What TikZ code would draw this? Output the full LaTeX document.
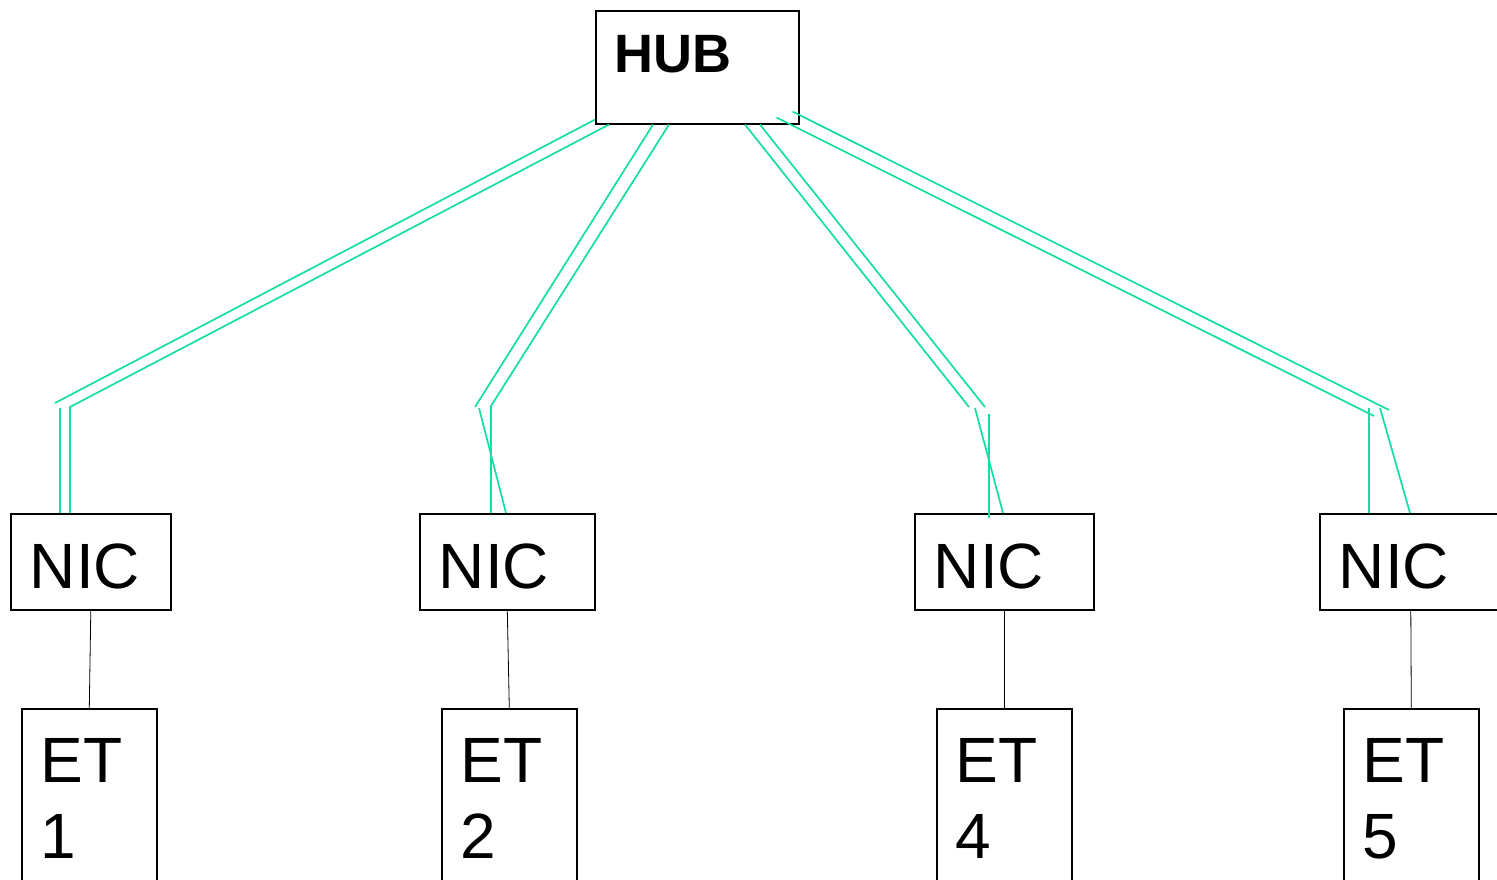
\documentclass[tikz,border=0pt]{standalone}
\usepackage{fontspec}
\setmainfont{Liberation Sans}
\usetikzlibrary{calc}
\definecolor{wire}{RGB}{20,222,164}
\tikzset{
	box/.style={draw, line width=1.6pt, anchor=north west, inner xsep=19pt, inner ysep=0pt, align=left},
	hubbox/.style={box, text width=165pt, text height=62pt, text depth=51pt, font=\fontsize{54}{60}\selectfont\bfseries},
	nicbox/.style={box, text height=75pt, text depth=21pt, font=\fontsize{64}{76}\selectfont},
	etbox/.style={box, text width=97pt, text height=74pt, text depth=126pt, font=\fontsize{64}{76}\selectfont},
	cable/.style={wire, line width=1.7pt},
	link/.style={line width=0.8pt}
}

\begin{document}
\begin{tikzpicture}[x=1pt,y=-1pt]
			%%%%% START %%%%%
			\clip (0,0) rectangle (1497,880);
			
			\node[hubbox] (hub) at (595,10) {HUB};
			
			\node[nicbox, text width=122pt] (nic1) at (10,513) {NIC};
			\node[nicbox, text width=137pt] (nic2) at (419,513) {NIC};
			\node[nicbox, text width=141pt] (nic4) at (914,513) {NIC};
			\node[nicbox, text width=144pt] (nic5) at (1319,513) {NIC};
			
			\node[etbox] (et1) at (21,708) {ET\\1};
			\node[etbox] (et2) at (441,708) {ET\\2};
			\node[etbox] (et4) at (936,708) {ET\\4};
			\node[etbox] (et5) at (1343,708) {ET\\5};
			
			\foreach \i in {1,2,4,5}
				\draw[link] (nic\i.south) -- (et\i.north);
			
			\coordinate (k1a) at (55,403);
			\coordinate (k1b) at (70,407);
			\coordinate (k1c) at (60,408);
			\draw[cable] ([yshift=5pt]hub.south west) -- (k1a);
			\draw[cable] ([xshift=14pt]hub.south west) -- (k1b) -- (k1b |- nic1.north);
			\draw[cable] (k1c) -- (k1c |- nic1.north);
			
			\coordinate (k2a) at (475,407);
			\coordinate (k2b) at (491,406);
			\coordinate (k2c) at (479,408);
			\draw[cable] ([xshift=58pt]hub.south west) -- (k2a);
			\draw[cable] ([xshift=74pt]hub.south west) -- (k2b) -- (k2b |- nic2.north);
			\draw[cable] (k2c) -- ([xshift=87pt]nic2.north west);
			
			\coordinate (k4a) at (969,407);
			\coordinate (k4b) at (985,407);
			\coordinate (k4c) at (975,408);
			\coordinate (k4d) at (989,414);
			\draw[cable] ([xshift=150pt]hub.south west) -- (k4a);
			\draw[cable] ([xshift=165pt]hub.south west) -- (k4b);
			\draw[cable] (k4c) -- ([xshift=89pt]nic4.north west);
			\draw[cable] (k4d) -- ([xshift=75pt,yshift=-5pt]nic4.north west);
			
			\coordinate (k5a) at (1374,416);
			\coordinate (k5b) at (1389,410);
			\coordinate (k5c) at (1369,408);
			\coordinate (k5d) at (1380,408);
			\draw[cable] ([shift={(-23pt,7pt)}]hub.south east) -- (k5a);
			\draw[cable] ([shift={(-7pt,13pt)}]hub.south east) -- (k5b);
			\draw[cable] (k5c) -- (k5c |- nic5.north);
			\draw[cable] (k5d) -- ([xshift=91pt]nic5.north west);
			%%%%% END %%%%%
\end{tikzpicture}
\end{document}
